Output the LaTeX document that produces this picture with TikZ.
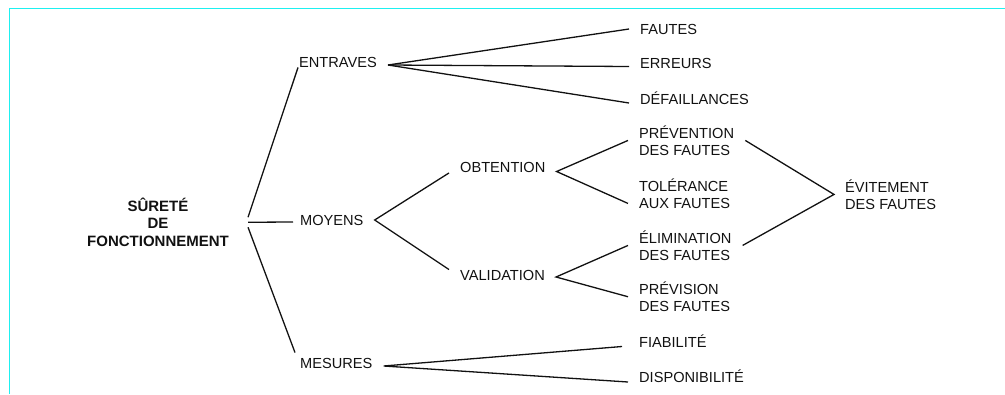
\documentclass[tikz,border=0pt]{standalone}
\usepackage{fontspec}
\setmainfont{Liberation Sans}
\usetikzlibrary{positioning}
\definecolor{scancyan}{HTML}{1EF0F0}
\definecolor{inkblack}{HTML}{111111}

\begin{document}
\begin{tikzpicture}[x=1pt, y=-1pt,
    font=\fontsize{14.6}{17}\selectfont,
    lbl/.style={anchor=west, inner xsep=11pt, inner ysep=0pt,
                text height=10.5pt, text depth=0pt, text=inkblack},
    lbltwo/.style={anchor=base west, inner xsep=11pt, inner ysep=0pt,
                   align=left, text=inkblack},
    branch/.style={draw=inkblack, line width=1.3pt}]
  \useasboundingbox (0,0) rectangle (1005,394);
  % scan frame
  \draw[scancyan, line width=1.8pt] (9.5,394) -- (9.5,8.5) -- (1005,8.5);

  % root
  \node[font=\fontsize{15}{17.5}\selectfont\bfseries, align=center, anchor=base,
        inner xsep=19pt, inner ysep=0pt, text=inkblack]
    (surete) at (158,246.4) {SÛRETÉ\\DE\\FONCTIONNEMENT};

  % first level
  \node[lbl] (entraves) at (288,62) {ENTRAVES};
  \node[lbl] (moyens) at (289,220) {MOYENS};
  \node[lbl] (mesures) at (289,363) {MESURES};

  % second level
  \node[lbl] (obtention) at (449,167.5) {OBTENTION};
  \node[lbl] (validation) at (449,275) {VALIDATION};
  \node[lbl] (fautes) at (629,29) {FAUTES};
  \node[lbl] (erreurs) at (629,63.5) {ERREURS};
  \node[lbl] (defaillances) at (629,99) {DÉFAILLANCES};
  \node[lbltwo] (prevention) at (628,155.2) {PRÉVENTION\\DES FAUTES};
  \node[lbltwo] (tolerance) at (628,208.2) {TOLÉRANCE\\AUX FAUTES};
  \node[lbltwo] (elimination) at (628,260.2) {ÉLIMINATION\\DES FAUTES};
  \node[lbltwo] (prevision) at (628,311.5) {PRÉVISION\\DES FAUTES};
  \node[lbl] (fiabilite) at (628,342.5) {FIABILITÉ};
  \node[lbl] (disponibilite) at (628,377) {DISPONIBILITÉ};
  \node[lbltwo] (evitement) at (834,209.2) {ÉVITEMENT\\DES FAUTES};

  % branches
  \draw[branch] ([yshift=5pt]surete.east) -- ([xshift=10pt]entraves.south west);
  \draw[branch] (surete.east) -- ([xshift=4pt,yshift=-2pt]moyens.west);
  \draw[branch] ([yshift=-5pt]surete.east) -- ([xshift=6pt,yshift=5pt]mesures.north west);

  \foreach \tgt/\dy in {fautes/0pt, erreurs/-3pt, defaillances/-4pt}
    \draw[branch] ([yshift=-3pt]entraves.east) -- ([yshift=\dy]\tgt.west);

  \draw[branch] (obtention.south west) -- (moyens.east) -- (validation.north west);
  \draw[branch] (prevention.west) -- ([yshift=-4pt]obtention.east) -- ([yshift=-10pt]tolerance.west);
  \draw[branch] (elimination.west) -- ([yshift=-2pt]validation.east) -- (prevision.west);
  \draw[branch] ([xshift=-6pt,yshift=-4pt]fiabilite.west) -- ([yshift=-3pt]mesures.east)
    -- ([yshift=-5pt]disponibilite.west);

  \draw[branch] (prevention.east) -- (evitement.west) -- (elimination.east);
\end{tikzpicture}
\end{document}
